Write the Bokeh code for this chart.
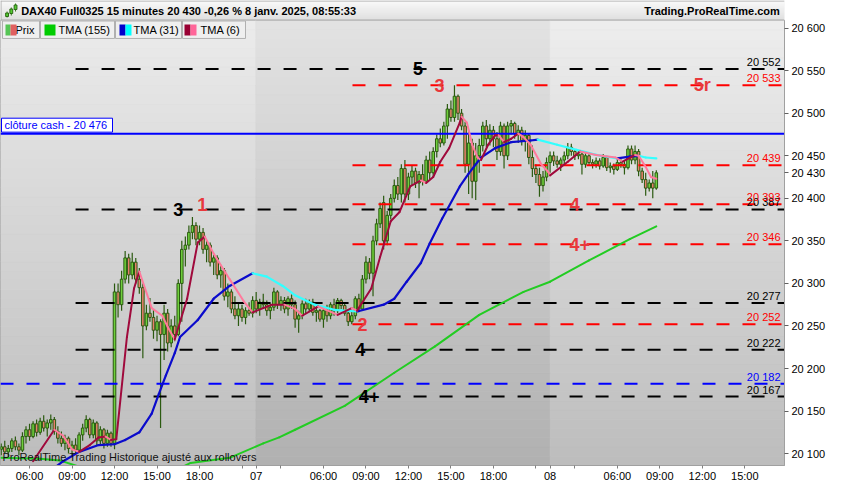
from bokeh.plotting import figure
from bokeh.layouts import column
from bokeh.models import Range1d, FixedTicker, ColumnDataSource
from bokeh.core.properties import value
from bokeh.embed import file_html
from bokeh.resources import INLINE

FONT = "Liberation Sans"

# ---------------- data ----------------
# 15-minute bars; bar index 0 = 06 Jan 01:15, 83 = 07 Jan 01:15, 166 = 08 Jan 01:15
first_bar = 11
opens = [20105,20108,20102,20106,20115,20108,20104,20120,20128,20120,
         20135,20125,20138,20130,20136,20140,20126,20118,20112,20118,
         20106,20110,20104,20122,20130,20140,20122,20136,20115,20128,
         20112,20124,20112,20290,20275,20305,20330,20310,20325,20305,
         20295,20250,20265,20260,20245,20255,20240,20265,20230,20250,
         20240,20300,20340,20345,20360,20368,20352,20360,20340,20345,
         20325,20330,20310,20315,20285,20290,20270,20262,20270,20260,
         20268,20265,
         20280,20270,20278,20275,20268,20272,20290,20275,20280,20270,
         20282,20275,20258,20262,20276,20270,20278,20266,20268,20258,
         20268,20262,20275,20268,20280,20274,20265,20255,20262,20282,
         20270,20305,20325,20312,20350,20370,20395,20350,20380,20400,
         20415,20405,20435,20405,20425,20432,20418,20428,20420,20445,
         20430,20455,20470,20465,20485,20505,20495,20520,20500,20485,
         20440,20465,20420,20450,20462,20485,20470,20480,20470,20455,
         20485,20450,20485,20488,20476,20480,20468,20474,20448,20435,
         20428,20415,20425,
         20442,20450,20444,20440,20445,20450,20460,20455,20450,20452,
         20440,20450,20442,20440,20444,20438,20448,20436,20438,20434,
         20442,20440,20436,20458,20445,20455,20432,20422,20412,20418,20412]
highs = [20112,20115,20110,20118,20120,20112,20125,20132,20135,20138,
         20140,20142,20145,20140,20146,20143,20132,20126,20122,20120,
         20115,20118,20125,20135,20145,20142,20140,20138,20132,20130,
         20128,20126,20300,20300,20315,20338,20335,20336,20330,20318,
         20300,20275,20283,20270,20262,20258,20275,20270,20258,20262,
         20305,20350,20355,20368,20378,20372,20368,20365,20350,20348,
         20335,20333,20322,20318,20300,20293,20285,20278,20275,20272,
         20278,20285,
         20290,20282,20288,20280,20276,20295,20292,20285,20284,20285,
         20287,20280,20268,20280,20282,20281,20282,20272,20270,20272,
         20275,20278,20282,20283,20282,20278,20270,20268,20285,20288,
         20310,20332,20330,20356,20376,20395,20403,20385,20405,20422,
         20425,20440,20445,20430,20438,20436,20432,20440,20450,20455,
         20460,20475,20482,20490,20511,20515,20533,20522,20505,20490,
         20478,20470,20465,20470,20490,20492,20487,20485,20478,20490,
         20488,20490,20492,20490,20486,20484,20480,20476,20462,20440,
         20436,20432,20448,
         20455,20455,20450,20448,20455,20465,20464,20458,20456,20455,
         20455,20453,20446,20448,20447,20452,20450,20442,20441,20446,
         20446,20445,20462,20462,20462,20458,20436,20430,20422,20432,20433]
lows = [20098,20100,20096,20102,20104,20098,20102,20112,20115,20118,
        20120,20122,20126,20120,20128,20122,20112,20108,20104,20100,
        20098,20100,20102,20115,20125,20118,20118,20110,20110,20106,
        20108,20108,20105,20260,20268,20300,20300,20305,20300,20288,
        20212,20245,20255,20235,20232,20130,20210,20220,20225,20232,
        20238,20255,20320,20340,20352,20345,20345,20335,20325,20320,
        20310,20305,20295,20280,20272,20265,20258,20250,20255,20252,
        20262,20260,
        20265,20262,20270,20262,20258,20268,20270,20268,20265,20262,
        20270,20248,20242,20258,20265,20266,20262,20255,20255,20248,
        20255,20258,20262,20265,20270,20262,20250,20252,20258,20266,
        20268,20300,20305,20285,20345,20365,20340,20345,20375,20395,
        20398,20395,20395,20398,20415,20412,20400,20415,20418,20422,
        20425,20448,20460,20462,20470,20490,20490,20492,20480,20430,
        20405,20400,20398,20430,20455,20460,20462,20460,20445,20450,
        20435,20445,20475,20470,20465,20462,20455,20440,20425,20418,
        20402,20408,20420,
        20430,20438,20436,20432,20438,20446,20450,20445,20446,20428,
        20436,20438,20435,20436,20434,20436,20432,20430,20428,20432,
        20436,20428,20434,20440,20440,20426,20418,20403,20408,20400,20410]
closes = [20108,20102,20106,20115,20108,20104,20120,20128,20120,20135,
          20125,20138,20130,20136,20140,20126,20118,20112,20118,20106,
          20110,20104,20122,20130,20140,20122,20136,20115,20128,20112,
          20124,20112,20290,20275,20305,20330,20310,20325,20305,20295,
          20250,20265,20260,20245,20255,20240,20265,20230,20250,20240,
          20300,20340,20345,20360,20368,20352,20360,20340,20345,20325,
          20330,20310,20315,20285,20290,20270,20262,20270,20260,20268,
          20265,20280,
          20270,20278,20275,20268,20272,20290,20275,20280,20270,20282,
          20275,20258,20262,20276,20270,20278,20266,20268,20258,20268,
          20262,20275,20268,20280,20274,20265,20255,20262,20282,20270,
          20305,20325,20312,20350,20370,20388,20350,20380,20400,20415,
          20405,20435,20405,20425,20432,20418,20428,20420,20445,20430,
          20455,20470,20465,20485,20505,20495,20520,20500,20485,20440,
          20465,20420,20450,20462,20485,20470,20480,20470,20455,20485,
          20450,20485,20488,20476,20480,20468,20474,20448,20435,20428,
          20415,20425,20442,
          20450,20444,20440,20445,20450,20460,20455,20450,20452,20440,
          20450,20442,20440,20444,20438,20448,20436,20438,20434,20442,
          20440,20436,20458,20445,20455,20432,20422,20412,20418,20412,20430]

# moving averages (bar index, value)
tma155_bar = [11, 22, 27.5, 35, 45, 55, 61, 64.5, 75.5, 85, 89.5, 94, 108, 122, 133.5, 146, 158.5, 166, 177, 188.5, 196]
tma155_val = [20095, 20094, 20092, 20082, 20074, 20075, 20082, 20089, 20095, 20112, 20119, 20128, 20156, 20195, 20226, 20263, 20290, 20302, 20327, 20352, 20367]
tma31_bar = [25, 28.5, 33, 38.5, 43, 46, 50, 53.5, 55.5, 57.5, 60, 61.5, 66.5, 71, 75.5, 82, 86, 90.5, 94, 99.5, 105, 111.5,
             119, 122, 125.5, 129.5, 132, 135.5, 140.5, 143, 146.5, 150.5, 155, 160.5, 162.5, 168, 173.5, 179, 185, 188.5, 191, 193, 196]
tma31_val = [20080, 20091, 20102, 20110, 20111, 20116, 20125, 20147, 20170, 20192, 20218, 20237, 20257, 20282, 20297, 20312, 20308, 20297, 20286, 20275, 20269, 20267,
             20275, 20282, 20302, 20324, 20347, 20376, 20414, 20429, 20448, 20459, 20466, 20468, 20469, 20463, 20457, 20451, 20447, 20449, 20450, 20448, 20447]
tma6_bar = [20, 26, 28.5, 31, 33, 36, 38.5, 40.5, 42, 43.5, 46.5, 48.5, 50, 53.5, 56.5, 58, 60, 63.5, 66.5, 68.5, 71, 75.5, 79.5, 82,
            85, 87.5, 91, 94, 96, 100.5, 106, 110, 111.5, 115.5, 118, 121, 123.5, 126.5, 129.5, 131, 133, 135, 137.5, 140.5, 141, 142.5,
            144, 145.5, 146.5, 148.5, 150.5, 151.5, 153, 155, 157, 158.5, 160.5, 163.5, 165.5, 166, 171, 174.5, 179, 184.5, 186.5, 190,
            191, 193, 194.5, 196]
tma6_val = [20091, 20128, 20121, 20105, 20102, 20110, 20119, 20120, 20116, 20117, 20237, 20294, 20314, 20271, 20262, 20249, 20234, 20282, 20348, 20355, 20335, 20305, 20279, 20266,
            20271, 20275, 20275, 20270, 20262, 20273, 20263, 20271, 20268, 20294, 20331, 20373, 20384, 20414, 20421, 20418, 20425, 20443, 20459, 20489, 20496, 20489,
            20463, 20448, 20445, 20463, 20474, 20474, 20466, 20470, 20476, 20472, 20463, 20440, 20431, 20427, 20443, 20455, 20451, 20448, 20443, 20451,
            20450, 20437, 20425, 20423]

# horizontal levels
black_levels = [20552, 20387, 20277, 20222, 20167]
black_start = 32
red_levels = [20533, 20439, 20393, 20346, 20252]
red_start = 110.2
blue_dash_level = 20182
cash_close = 20476

# step markers
step_text = ["5", "3", "5r", "3", "1", "4", "4+", "2", "4", "4+"]
step_bar = [128.7, 134.8, 209, 61, 67.8, 173, 174.4, 113, 112.4, 114.9]
step_val = [20552, 20533, 20533, 20387, 20393, 20393, 20346, 20252, 20222, 20167]
step_col = ["black", "red", "red", "black", "red", "red", "red", "red", "black", "black"]

# axes
y_ticks = [20100, 20150, 20200, 20250, 20300, 20350, 20400, 20430, 20450, 20500, 20550, 20600]
y_tick_labels = ["20 100", "20 150", "20 200", "20 250", "20 300", "20 350", "20 400", "20 430", "20 450", "20 500", "20 550", "20 600"]
x_ticks = [19, 31, 43, 55, 67, 79, 83, 90, 102, 114, 126, 138, 150, 162, 166, 173, 185, 197, 209, 221]
x_tick_labels = ["06:00", "09:00", "12:00", "15:00", "18:00", "", "07", "", "06:00", "09:00", "12:00", "15:00", "18:00", "",
                 "08", "", "06:00", "09:00", "12:00", "15:00"]
day_bounds = [82.9, 166.0]

# ---------------- layout ----------------
W = 834
TITLE_H = 20
MAIN_H = 464
RIGHT_W = 50
BOTTOM_H = 18
FW = W - RIGHT_W
FH = MAIN_H - BOTTOM_H
X0, X1 = 10.8, 232.2
Y0, Y1 = 20086.0, 20609.0
PPY = (Y1 - Y0) / FH


def xd(px):
    return X0 + px * (X1 - X0) / FW


def yd(py):
    return Y1 - py * PPY


def hexmix(c1, c2, t):
    a = [int(c1[i:i + 2], 16) for i in (1, 3, 5)]
    b = [int(c2[i:i + 2], 16) for i in (1, 3, 5)]
    return "#%02x%02x%02x" % tuple(int(round(a[k] + (b[k] - a[k]) * t)) for k in range(3))


# ---------------- title bar ----------------
t = figure(width=W, height=TITLE_H, x_range=Range1d(0, W), y_range=Range1d(0, TITLE_H),
           x_axis_type=None, y_axis_type=None, output_backend="svg", toolbar_location=None,
           min_border=0)
t.grid.visible = False
t.outline_line_color = None
t.background_fill_color = "#eeeeee"
t.border_fill_color = "white"
rows = list(range(TITLE_H))
t.quad(left=0, right=W, bottom=[TITLE_H - r - 1 for r in rows], top=[TITLE_H - r for r in rows],
       fill_color=[hexmix("#fdfdfd", "#dadada", r / (TITLE_H - 1)) for r in rows], line_color=None)
t.segment(x0=[0, 0, 0.5], y0=[0.5, TITLE_H - 0.5, 0], x1=[W, W, 0.5], y1=[0.5, TITLE_H - 0.5, TITLE_H],
          line_color="#a8a8a8", line_width=1)
# small candle icon
t.segment(x0=[7, 11.5, 16], y0=[3, 5, 9], x1=[7, 11.5, 16], y1=[9, 13, 17], line_color="#3a7a20", line_width=1)
t.quad(left=[5.5, 10, 14.5], right=[8.5, 13, 17.5], bottom=[4, 7, 11], top=[7.5, 11.5, 15.5],
       fill_color="#55cc33", line_color="#2c6a14")
t.text(x=[22], y=[10], text=["DAX40 Full0325 15 minutes 20 430 -0,26 % 8 janv. 2025, 08:55:33"],
       text_font=value(FONT), text_font_size="11px", text_font_style="bold", text_baseline="middle",
       text_color="black")
t.text(x=[W - 5], y=[10], text=["Trading.ProRealTime.com"], text_font=value(FONT), text_font_size="11px",
       text_font_style="bold", text_baseline="middle", text_align="right", text_color="black")

# ---------------- main chart ----------------
p = figure(width=W, height=MAIN_H, x_range=Range1d(X0, X1), y_range=Range1d(Y0, Y1),
           y_axis_location="right", output_backend="svg", toolbar_location=None,
           min_border_left=0, min_border_right=RIGHT_W, min_border_top=0, min_border_bottom=BOTTOM_H)
p.grid.visible = False
p.background_fill_color = "#d4d4d4"
p.border_fill_color = "white"
p.outline_line_color = "#a0a0a0"

# background day bands with vertical gradient
bands = [(X0, day_bounds[0], "#ebebeb", "#bdbdbd"),
         (day_bounds[0], day_bounds[1], "#e3e3e3", "#b0b0b0"),
         (day_bounds[1], X1, "#eeeeee", "#bcbcbc")]
N = 48
for (l, r, ctop, cbot) in bands:
    bots = [Y0 + (Y1 - Y0) * k / N for k in range(N)]
    tops = [Y0 + (Y1 - Y0) * (k + 1) / N for k in range(N)]
    cols = [hexmix(cbot, ctop, (k + 0.5) / N) for k in range(N)]
    p.quad(left=l, right=r, bottom=bots, top=tops, fill_color=cols, line_color=cols, line_width=0.5)

# candles
bars = list(range(first_bar, first_bar + len(opens)))
assert len(opens) == len(highs) == len(lows) == len(closes) == 186
src = ColumnDataSource(dict(
    x=bars, h=highs, l=lows,
    top=[max(o, c) for o, c in zip(opens, closes)],
    bottom=[min(o, c) for o, c in zip(opens, closes)],
    fill=["#6fd03c" if c >= o else "#e8806c" for o, c in zip(opens, closes)],
))
WICK = "#2b5a10"
p.segment(x0="x", y0="l", x1="x", y1="h", line_color=WICK, line_width=1.2, source=src)
p.vbar(x="x", width=0.72, top="top", bottom="bottom", fill_color="fill", line_color=WICK, line_width=1, source=src)

# levels
nb = len(black_levels)
p.segment(x0=[black_start] * nb, x1=[X1] * nb, y0=black_levels, y1=black_levels,
          line_color="black", line_width=2, line_dash="13 13")
nr = len(red_levels)
p.segment(x0=[red_start] * nr, x1=[X1] * nr, y0=red_levels, y1=red_levels,
          line_color="#ff0000", line_width=2, line_dash="13 13")
p.segment(x0=[X0], x1=[X1], y0=[blue_dash_level], y1=[blue_dash_level],
          line_color="#0000ff", line_width=2, line_dash="13 13")
p.segment(x0=[X0], x1=[X1], y0=[cash_close], y1=[cash_close], line_color="#0000ff", line_width=2)


# moving averages, coloured by direction
def ma(bx, vals, up, down, width):
    x0, x1, y0, y1 = bx[:-1], bx[1:], vals[:-1], vals[1:]
    cols = [up if b >= a else down for a, b in zip(y0, y1)]
    p.segment(x0=x0, y0=y0, x1=x1, y1=y1, line_color=cols, line_width=width, line_cap="round")


ma(tma155_bar, tma155_val, "#22cc22", "#22cc22", 2)
ma(tma31_bar, tma31_val, "#0b0bcc", "#33ffff", 2.2)
ma(tma6_bar, tma6_val, "#a00a3c", "#ff7a9c", 2)


def fmt(v):
    return f"{v:,}".replace(",", " ")


# level labels
p.text(x=[X1] * nb, y=black_levels, text=[fmt(v) for v in black_levels], text_align="right",
       text_baseline="bottom", x_offset=-4, y_offset=-1, text_font=value(FONT), text_font_size="11px",
       text_color="black")
p.text(x=[X1] * nr, y=red_levels, text=[fmt(v) for v in red_levels], text_align="right",
       text_baseline="bottom", x_offset=-4, y_offset=-1, text_font=value(FONT), text_font_size="11px",
       text_color="#ff0000")
p.text(x=[X1], y=[blue_dash_level], text=[fmt(blue_dash_level)], text_align="right",
       text_baseline="bottom", x_offset=-4, y_offset=-1, text_font=value(FONT), text_font_size="11px",
       text_color="#0000ff")

# step markers
p.text(x=step_bar, y=step_val, text=step_text,
       text_color=["black" if c == "black" else "#e8383c" for c in step_col],
       text_align="center", text_baseline="middle", text_font=value(FONT), text_font_size="18px",
       text_font_style="bold")

# cash close box
p.quad(left=[xd(1)], right=[xd(112)], bottom=[cash_close + 1.5 * PPY], top=[cash_close + 15.5 * PPY],
       fill_color="white", line_color="#0000ff", line_width=1)
p.text(x=[xd(4)], y=[cash_close + 8.5 * PPY], text=["cl\u00f4ture cash -  " + fmt(cash_close)],
       text_baseline="middle", text_font=value(FONT), text_font_size="11px", text_color="#0000ff")

# legend row
leg_l = [2, 40, 115, 182]
leg_r = [39, 114, 181, 245]
p.quad(left=[xd(v) for v in leg_l], right=[xd(v) for v in leg_r], bottom=yd(18), top=yd(0.5),
       fill_color="#efefef", line_color="#b0b0b0", line_width=1)
p.text(x=[xd(15), xd(58), xd(133), xd(200)], y=yd(9.5), text=["Prix", "TMA (155)", "TMA (31)", "TMA (6)"],
       text_baseline="middle", text_font=value(FONT), text_font_size="11px", text_color="black")
sw_l = [5, 10, 44, 119, 125, 184, 190]
sw_r = [10, 16, 55, 125, 131, 190, 196]
sw_c = ["#55c555", "#e06060", "#00cc00", "#0000cc", "#00ffff", "#990033", "#ff6699"]
p.quad(left=[xd(v) for v in sw_l], right=[xd(v) for v in sw_r], bottom=yd(15), top=yd(4),
       fill_color=sw_c, line_color=None)

# footer text
p.text(x=[xd(2)], y=[yd(FH - 9)], text=["ProRealTime Trading Historique ajust\u00e9 aux rollovers"],
       text_baseline="middle", text_font=value(FONT), text_font_size="11px", text_color="#111111")

# axes
p.yaxis.ticker = FixedTicker(ticks=y_ticks)
p.yaxis.major_label_overrides = dict(zip(y_ticks, y_tick_labels))
p.yaxis.major_label_text_font = FONT
p.yaxis.major_label_text_font_size = "11px"
p.yaxis.major_label_text_color = "black"
p.yaxis.major_tick_out = 4
p.yaxis.major_tick_in = 0
p.yaxis.minor_tick_out = 0
p.yaxis.major_label_standoff = 3
p.yaxis.axis_line_color = "#a0a0a0"
p.yaxis.major_tick_line_color = "#606060"

p.xaxis.ticker = FixedTicker(ticks=x_ticks)
p.xaxis.major_label_overrides = dict(zip(x_ticks, x_tick_labels))
p.xaxis.major_label_text_font = FONT
p.xaxis.major_label_text_font_size = "11px"
p.xaxis.major_label_text_color = "black"
p.xaxis.major_tick_out = 3
p.xaxis.major_tick_in = 0
p.xaxis.minor_tick_out = 0
p.xaxis.major_label_standoff = 1
p.xaxis.axis_line_color = "#a0a0a0"
p.xaxis.major_tick_line_color = "#808080"

layout = column(t, p, spacing=0)
open("out.html", "w").write(file_html(layout, INLINE))
